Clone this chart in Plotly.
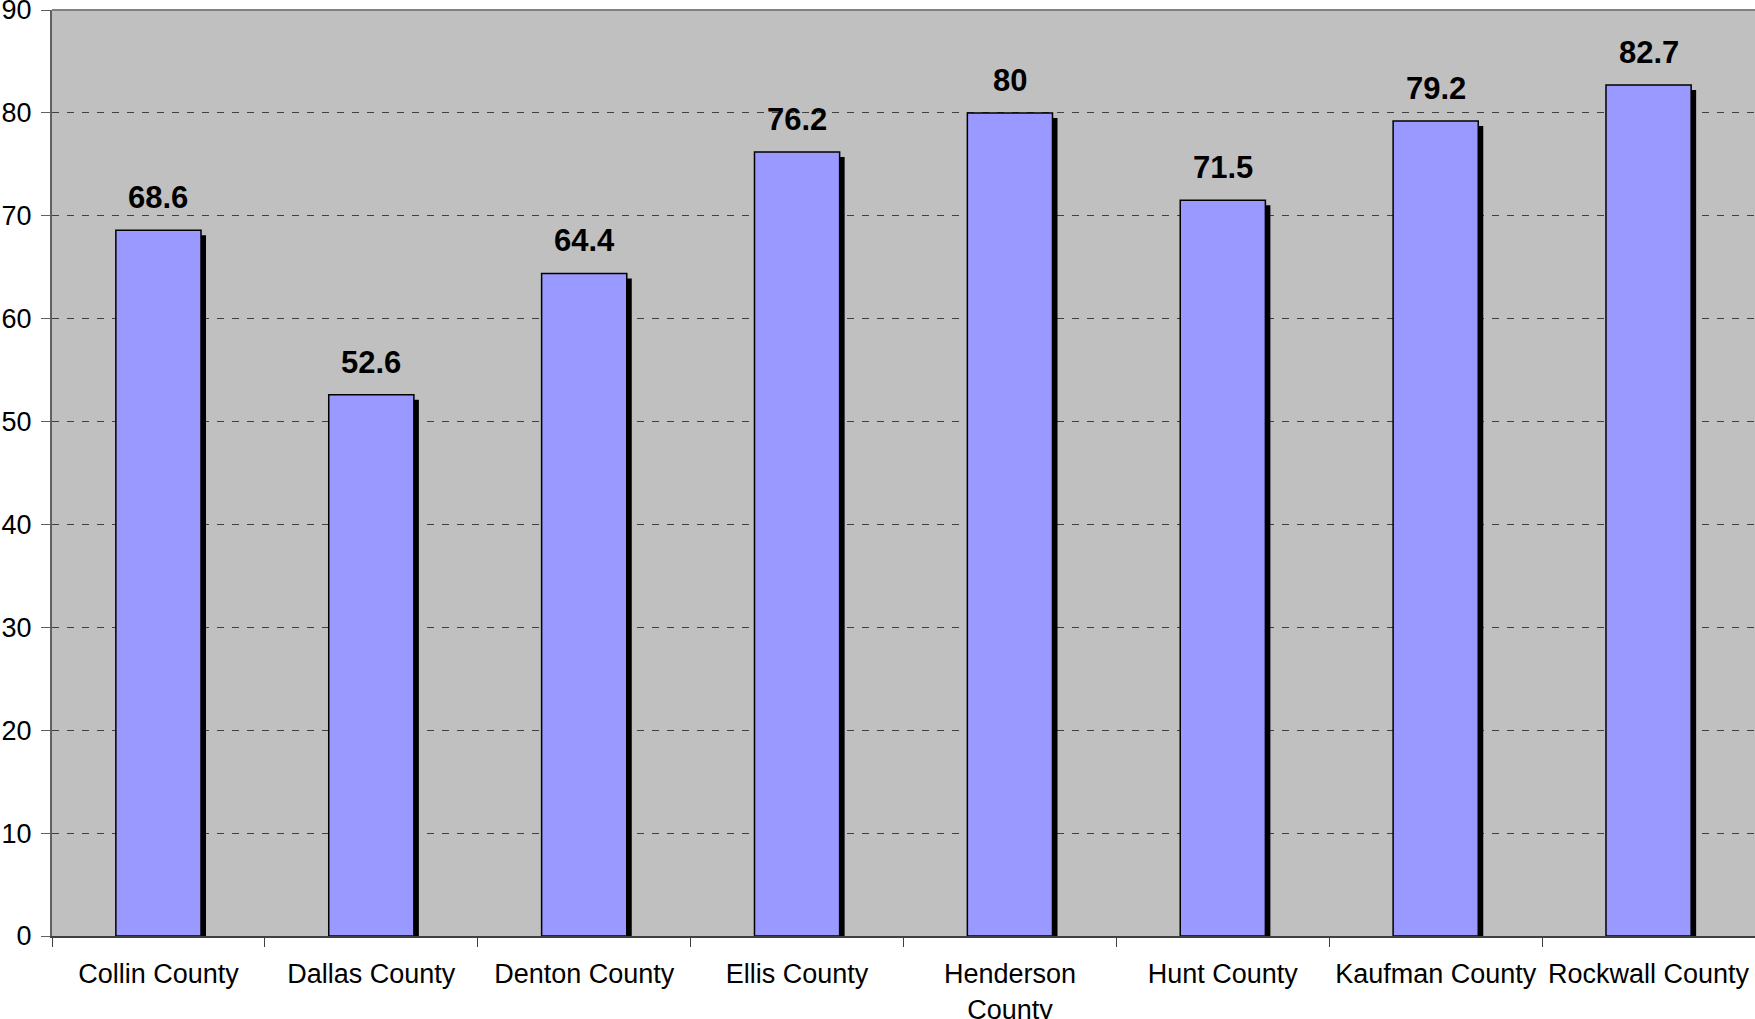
import plotly.graph_objects as go

categories = ["Collin County", "Dallas County", "Denton County", "Ellis County",
              "Henderson<br>County", "Hunt County", "Kaufman County", "Rockwall County"]
values = [68.6, 52.6, 64.4, 76.2, 80, 71.5, 79.2, 82.7]
y_ticks = [0, 10, 20, 30, 40, 50, 60, 70, 80, 90]
labels = ["68.6", "52.6", "64.4", "76.2", "80", "71.5", "79.2", "82.7"]

W, H = 1755, 1019
ML, MR, MT, MB = 52, 0, 10, 83
bar_w = 0.4
px_per_cat = (W - ML - MR) / len(categories)
px_per_unit = (H - MT - MB) / 90
dx = 5 / px_per_cat
dy = 5 / px_per_unit

fig = go.Figure()
# shadow
fig.add_trace(go.Bar(
    x=categories, y=[v - dy for v in values], width=bar_w, offset=-bar_w / 2 + dx,
    marker=dict(color="black", line=dict(width=0)), hoverinfo="skip", showlegend=False))
# bars
fig.add_trace(go.Bar(
    x=categories, y=values, width=bar_w, offset=-bar_w / 2,
    marker=dict(color="#9999FF", line=dict(color="black", width=1.5)), showlegend=False))

for c, v, t in zip(categories, values, labels):
    fig.add_annotation(x=c, y=v, text=t, showarrow=False, yanchor="bottom",
                       yshift=13, font=dict(family="Liberation Sans, Arial", size=31,
                                            color="black", weight="bold"))

fig.add_shape(type="line", xref="paper", yref="paper", x0=0, x1=1, y0=1, y1=1,
              line=dict(color="#808080", width=2))

fig.update_layout(
    width=W, height=H, barmode="overlay",
    margin=dict(l=ML, r=MR, t=MT, b=MB, pad=0, autoexpand=False),
    paper_bgcolor="white", plot_bgcolor="#C0C0C0",
    font=dict(family="Liberation Sans, Arial", size=27, color="black"),
    xaxis=dict(tickson="boundaries", ticks="outside", ticklen=9, tickcolor="#404040",
               showline=True, linecolor="#404040", linewidth=2, showgrid=False,
               tickfont=dict(size=27), ticklabelstandoff=13, automargin=False,
               ticklabeloverflow="allow"),
    yaxis=dict(range=[0, 90], tickvals=y_ticks, ticks="outside", ticklen=9,
               tickcolor="#606060", showline=True, linecolor="#606060", linewidth=2,
               showgrid=True, gridcolor="#404040", griddash="7px,8px", gridwidth=1.3,
               zeroline=False, tickfont=dict(size=27), ticklabelstandoff=4,
               automargin=False, ticklabeloverflow="allow"),
)

fig.write_html("out.html", config={"displayModeBar": False},
               post_script="document.body.style.margin='0px';document.body.style.overflow='hidden';")
